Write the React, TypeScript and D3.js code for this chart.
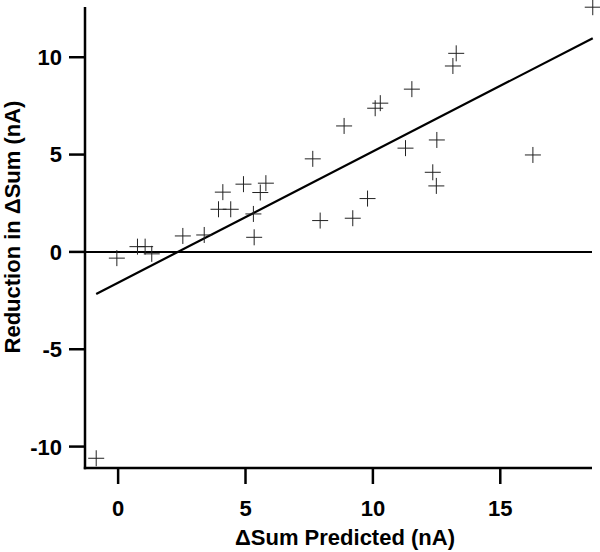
import React from "react";
import * as d3 from "d3";

const xValues = [-0.86, -0.05, 0.76, 1.06, 1.32, 2.54, 3.38, 3.94, 4.11, 4.42, 4.92, 5.31, 5.34, 5.58, 5.8,
  7.64, 7.93, 8.87, 9.21, 9.79, 10.09, 10.29, 11.28, 11.53, 12.35, 12.49, 12.51, 13.14, 13.27, 16.28, 18.63];
const yValues = [-10.6, -0.32, 0.27, 0.27, -0.1, 0.82, 0.87, 2.19, 3.07, 2.19, 3.48, 1.95, 0.75, 3.05, 3.53,
  4.78, 1.61, 6.47, 1.73, 2.74, 7.38, 7.64, 5.33, 8.36, 4.09, 3.39, 5.75, 9.55, 10.2, 4.98, 12.57];
const fitSlope = 0.674;
const fitIntercept = -1.58;
const xTicks = [0, 5, 10, 15];
const yTicks = [-10, -5, 0, 5, 10];
const xDomain = [-1.3, 18.6];
const yDomain = [-11.1, 12.58];

const W = 600, H = 552;
const left = 85, right = 592, top = 7, bottom = 468;

export default function App() {
  const x = d3.scaleLinear().domain(xDomain).range([left, right]);
  const y = d3.scaleLinear().domain(yDomain).range([bottom, top]);
  const x0 = d3.min(xValues)!, x1 = d3.max(xValues)!;
  const line = d3.line<number>().x(d => x(d)).y(d => y(fitSlope * d + fitIntercept));
  const font = "'Liberation Sans', Arial, sans-serif";
  const m = 8;
  return (
    <svg width={W} height={H} style={{ position: "absolute", left: 0, top: 0 }} fontFamily={font}>
      <rect width={W} height={H} fill="#fff" />
      <line x1={left} x2={right} y1={y(0)} y2={y(0)} stroke="#000" strokeWidth={2} />
      <path d={line([x0, x1])!} fill="none" stroke="#000" strokeWidth={2.2} />
      {xValues.map((v, i) => (
        <g key={i} stroke="#222" strokeWidth={1}>
          <line x1={x(v) - m} x2={x(v) + m} y1={y(yValues[i])} y2={y(yValues[i])} />
          <line x1={x(v)} x2={x(v)} y1={y(yValues[i]) - m} y2={y(yValues[i]) + m} />
        </g>
      ))}
      <line x1={left} x2={left} y1={top} y2={bottom + 1.2} stroke="#000" strokeWidth={2.5} />
      <line x1={left - 1.2} x2={right} y1={bottom} y2={bottom} stroke="#000" strokeWidth={2.5} />
      {yTicks.map(t => (
        <g key={t}>
          <line x1={left - 16} x2={left} y1={y(t)} y2={y(t)} stroke="#000" strokeWidth={2.5} />
          <text x={62} y={y(t)} dy="0.36em" textAnchor="end" fontSize={22} fontWeight="bold">{t}</text>
        </g>
      ))}
      {xTicks.map(t => (
        <g key={t}>
          <line x1={x(t)} x2={x(t)} y1={bottom} y2={bottom + 16} stroke="#000" strokeWidth={2.5} />
          <text x={x(t)} y={516} textAnchor="middle" fontSize={22} fontWeight="bold">{t}</text>
        </g>
      ))}
      <text x={345} y={545} textAnchor="middle" fontSize={22} fontWeight="bold">ΔSum Predicted (nA)</text>
      <text transform={`translate(20,227) rotate(-90)`} textAnchor="middle" fontSize={22} fontWeight="bold">Reduction in ΔSum (nA)</text>
    </svg>
  );
}
